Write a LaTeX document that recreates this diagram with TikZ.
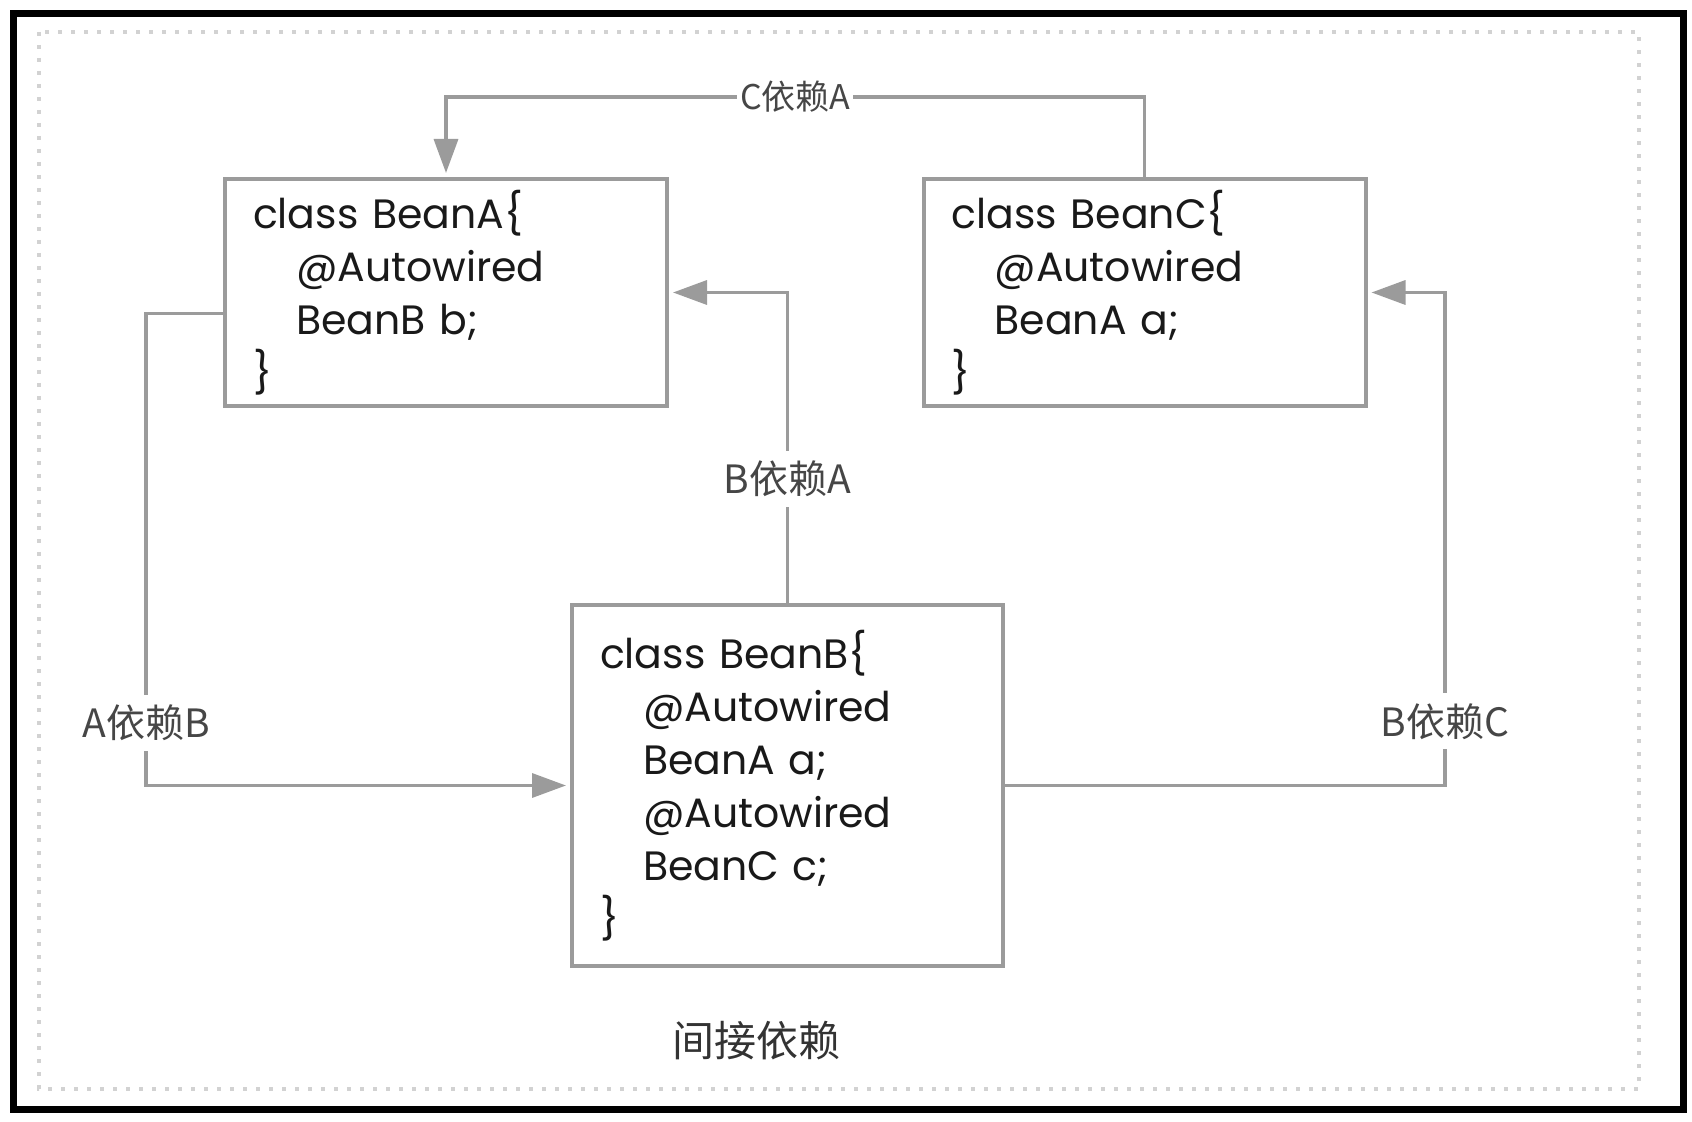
\documentclass[tikz,border=0pt]{standalone}
\usepackage{fontspec}
\setmainfont{Poppins}
\newfontfamily\cjkfont{Noto Sans CJK SC}
\usetikzlibrary{arrows.meta}
\definecolor{linegray}{RGB}{155,155,155}
\definecolor{labelgray}{RGB}{70,70,70}
\newcommand{\beanind}{\hspace*{21.5pt}}
\tikzset{
  bean/.style={draw=linegray, line width=2pt, align=left, inner xsep=14pt, text=black!90,
    font=\fontsize{20.5pt}{26.5pt}\selectfont},
  dep/.style={draw=linegray, line width=1.75pt, -{Triangle[length=17pt,width=12pt]}, shorten >=2pt},
  deplabel/.style={fill=white, text=labelgray, inner xsep=1.5pt, inner ysep=5pt,
    font=\cjkfont\fontsize{19.5pt}{21pt}\selectfont},
}
\begin{document}
\begin{tikzpicture}[x=0.5pt,y=-0.5pt]
\useasboundingbox (0,0) rectangle (1692,1122);
% frames
\draw[line width=3.5pt] (13.5,13.5) rectangle (1683.5,1109);
\draw[gray!35, line width=2pt, dash pattern=on 2pt off 4.5pt] (39,32) rectangle (1639,1089);
% beans
\node[bean, minimum width=221pt, minimum height=113.5pt, text width=193pt] (A) at (446,292.5)
  {class BeanA\{\\\beanind @Autowired\\\beanind BeanB b;\\\}};
\node[bean, minimum width=221pt, minimum height=113.5pt, text width=193pt] (C) at (1144.5,292.5)
  {class BeanC\{\\\beanind @Autowired\\\beanind BeanA a;\\\}};
\node[bean, minimum width=215.5pt, minimum height=180.5pt, text width=187.5pt] (B) at (787.5,785.5)
  {class BeanB\{\\\beanind @Autowired\\\beanind BeanA a;\\\beanind @Autowired\\\beanind BeanC c;\\\}};
% dependencies
\coordinate (top) at (0,97);
\coordinate (left) at (146,0);
\coordinate (right) at (1445,0);
\draw[dep] (C.north) -- (C.north |- top) -- node[deplabel, font=\cjkfont\fontsize{17pt}{19pt}\selectfont]{C依赖A} (A.north |- top) -- (A.north);
\draw[dep] (B.north) |- node[deplabel, pos=0.2]{B依赖A} (A.east);
\draw[dep] ([yshift=-10.5pt]A.west) -| node[deplabel, pos=0.934]{A依赖B} (left |- B.west) -- (B.west);
\draw[dep] (B.east) -| node[deplabel, pos=0.565]{B依赖C} (right |- C.east) -- (C.east);
% caption
\node[font=\cjkfont\fontsize{21pt}{24pt}\selectfont, text=black!80] (caption) at (756,1041) {间接依赖};
\end{tikzpicture}
\end{document}
